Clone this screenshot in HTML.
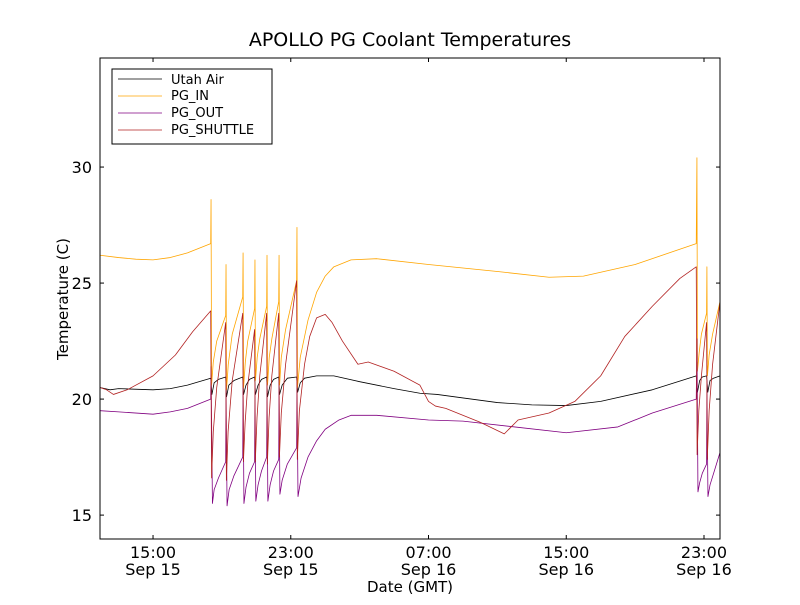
<!DOCTYPE html>
<html><head><meta charset="utf-8"><style>
html,body{margin:0;padding:0;background:#fff;}
svg text{font-family:"DejaVu Sans","Liberation Sans",sans-serif;}
</style></head><body>
<svg id="chart" width="800" height="600" xmlns="http://www.w3.org/2000/svg">
<rect width="800" height="600" fill="#fff"/>
<text x="410" y="46" font-size="19" text-anchor="middle">APOLLO PG Coolant Temperatures</text>
<g id="plot"></g>
<g id="axes"></g>
<g>
<rect x="112" y="69" width="160" height="75" fill="#fff" stroke="#000" stroke-width="1"/>
<line x1="118" y1="79" x2="162" y2="79" stroke="#000" stroke-width="0.8"/>
<text x="171" y="84" font-size="13">Utah Air</text>
<line x1="118" y1="96" x2="162" y2="96" stroke="#ffa500" stroke-width="0.8"/>
<text x="171" y="100" font-size="13">PG_IN</text>
<line x1="118" y1="113" x2="162" y2="113" stroke="#800080" stroke-width="0.8"/>
<text x="171" y="117" font-size="13">PG_OUT</text>
<line x1="118" y1="130" x2="162" y2="130" stroke="#b22222" stroke-width="0.8"/>
<text x="171" y="134" font-size="13">PG_SHUTTLE</text>
</g>
<text x="410" y="592" font-size="15" text-anchor="middle">Date (GMT)</text>
<text x="0" y="0" font-size="15" text-anchor="middle" transform="translate(68,299) rotate(-90)">Temperature (C)</text>
</svg>
<script>
// hours since Sep 15 00:00 GMT
const xTicks = [15, 23, 31, 39, 47];
const xTickLabels = [["15:00","Sep 15"],["23:00","Sep 15"],["07:00","Sep 16"],["15:00","Sep 16"],["23:00","Sep 16"]];
const yTicks = [15, 20, 25, 30];
const utahAir = [[11.92,20.5],[12.5,20.4],[13,20.45],[15,20.4],[16,20.45],[17,20.6],[18.35,20.9],[18.42,20.2],[18.55,20.7],[18.8,20.85],[19.22,20.95],[19.27,20.1],[19.4,20.6],[19.7,20.8],[20.21,20.95],[20.26,20.2],[20.4,20.6],[20.6,20.85],[20.9,20.95],[20.95,20.2],[21.1,20.6],[21.3,20.85],[21.6,20.95],[21.65,20.1],[21.8,20.6],[22.0,20.85],[22.3,20.95],[22.35,20.2],[22.5,20.6],[22.8,20.9],[23.34,20.95],[23.4,20.3],[23.55,20.7],[23.8,20.9],[24.5,21.0],[25.5,21.0],[27,20.75],[29,20.45],[30.5,20.25],[31.5,20.2],[33,20.05],[35,19.85],[37,19.75],[39,19.72],[41,19.9],[44,20.4],[46.55,21.0],[46.62,20.3],[46.75,20.8],[46.9,20.95],[47.15,21.0],[47.22,20.3],[47.35,20.8],[47.55,20.9],[47.93,21.0]];
const pgIn = [[11.92,26.2],[13,26.1],[14,26.03],[15,26.0],[16,26.1],[17,26.3],[18.35,26.7],[18.37,28.6],[18.4,20.6],[18.5,21.6],[18.7,22.5],[19.22,23.6],[19.24,25.8],[19.27,20.4],[19.37,21.5],[19.6,22.8],[20.21,24.4],[20.23,26.3],[20.26,20.5],[20.36,21.6],[20.5,22.5],[20.9,23.9],[20.92,26.0],[20.95,20.8],[21.05,21.8],[21.2,22.6],[21.6,24.0],[21.62,26.2],[21.65,20.6],[21.75,21.8],[21.9,22.6],[22.3,24.2],[22.32,26.2],[22.35,20.6],[22.45,21.8],[22.7,23.0],[23.34,25.1],[23.36,27.4],[23.39,20.5],[23.55,21.8],[24.0,23.4],[24.5,24.6],[25.0,25.3],[25.5,25.7],[26.5,26.0],[28,26.05],[31,25.8],[35,25.5],[38,25.25],[40,25.3],[43,25.8],[46.55,26.7],[46.59,30.4],[46.62,21.2],[46.72,22.0],[46.85,22.8],[47.15,23.7],[47.17,25.7],[47.2,21.0],[47.3,21.9],[47.5,22.8],[47.93,24.2]];
const pgOut = [[11.92,19.5],[13,19.45],[15,19.35],[16,19.45],[17,19.6],[18.35,20.0],[18.37,21.4],[18.45,15.5],[18.55,16.1],[18.8,16.6],[19.22,17.3],[19.24,20.6],[19.3,15.4],[19.42,16.1],[19.7,16.7],[20.21,17.5],[20.23,20.8],[20.28,15.5],[20.4,16.2],[20.6,16.8],[20.9,17.3],[20.92,20.6],[20.97,15.6],[21.1,16.3],[21.3,16.9],[21.6,17.5],[21.62,20.7],[21.67,15.6],[21.8,16.3],[22.0,16.9],[22.3,17.4],[22.32,20.8],[22.37,15.9],[22.5,16.5],[22.8,17.2],[23.34,17.9],[23.36,20.9],[23.42,15.8],[23.6,16.6],[24.0,17.5],[24.5,18.2],[25.0,18.7],[25.8,19.1],[26.5,19.3],[28,19.3],[31,19.1],[33,19.05],[36,18.8],[39,18.55],[42,18.8],[44,19.4],[46.55,20.0],[46.59,22.6],[46.65,16.0],[46.75,16.4],[46.9,16.8],[47.15,17.2],[47.17,20.8],[47.23,15.8],[47.35,16.3],[47.6,16.9],[47.93,17.7]];
const pgShuttle = [[11.92,20.5],[12.3,20.4],[12.7,20.2],[13.5,20.4],[15,21.0],[16.3,21.9],[17.3,22.9],[18.35,23.8],[18.4,16.6],[18.5,18.6],[18.7,20.5],[19.22,23.3],[19.26,16.5],[19.36,18.6],[19.6,20.8],[20.21,23.7],[20.25,17.3],[20.35,19.0],[20.5,20.6],[20.9,23.0],[20.94,17.3],[21.04,19.2],[21.2,21.0],[21.6,23.7],[21.64,17.2],[21.74,19.2],[21.9,21.0],[22.3,23.7],[22.34,17.5],[22.45,19.4],[22.7,21.5],[23.34,25.1],[23.38,17.4],[23.5,19.5],[23.8,21.5],[24.1,22.7],[24.5,23.5],[25.0,23.65],[25.4,23.3],[26,22.5],[26.9,21.5],[27.5,21.6],[29,21.2],[30.5,20.6],[31.0,19.9],[31.4,19.7],[32,19.6],[34,19.0],[35.4,18.5],[36.2,19.1],[38,19.4],[39.5,19.9],[41,21.0],[42.4,22.7],[44,24.0],[45.6,25.2],[46.55,25.7],[46.6,17.6],[46.7,19.5],[46.85,21.0],[47.15,23.3],[47.19,17.4],[47.3,19.5],[47.5,21.5],[47.93,24.2]];

const L=100,R=720,T=58,B=539, X0=11.92,X1=47.93, Y0=13.97,Y1=34.7;
const sx=h=>L+(h-X0)/(X1-X0)*(R-L);
const sy=v=>B-(v-Y0)/(Y1-Y0)*(B-T);
const NS="http://www.w3.org/2000/svg";
const plot=document.getElementById('plot'), axes=document.getElementById('axes');
function mk(tag,attrs,parent){const e=document.createElementNS(NS,tag);for(const k in attrs)e.setAttribute(k,attrs[k]);parent.appendChild(e);return e;}
function series(data,color,name){
  const d=data.map((p,i)=>(i?'L':'M')+sx(p[0]).toFixed(2)+','+sy(p[1]).toFixed(2)).join('');
  const p=mk('path',{d:d,fill:'none',stroke:color,'stroke-width':0.8,'stroke-linejoin':'round'},plot);
  
  
}
series(utahAir,'#000','series-utah-air');
series(pgIn,'#ffa500','series-pg-in');
series(pgOut,'#800080','series-pg-out');
series(pgShuttle,'#b22222','series-pg-shuttle');
mk('rect',{x:L,y:T,width:R-L,height:B-T,fill:'none',stroke:'#000','stroke-width':1},axes);
xTicks.forEach((h,i)=>{
  const x=sx(h);
  mk('line',{x1:x,y1:B,x2:x,y2:B-4,stroke:'#000'},axes);
  mk('line',{x1:x,y1:T,x2:x,y2:T+4,stroke:'#000'},axes);
  const t1=mk('text',{x:x,y:B+19,'font-size':16,'text-anchor':'middle'},axes);t1.textContent=xTickLabels[i][0];
  
  
  const t2=mk('text',{x:x,y:B+36,'font-size':16,'text-anchor':'middle'},axes);t2.textContent=xTickLabels[i][1];
  
  
});
yTicks.forEach(v=>{
  const y=sy(v);
  mk('line',{x1:L,y1:y,x2:L+4,y2:y,stroke:'#000'},axes);
  mk('line',{x1:R,y1:y,x2:R-4,y2:y,stroke:'#000'},axes);
  const t=mk('text',{x:L-8,y:y+6,'font-size':16,'text-anchor':'end'},axes);t.textContent=v;
  
  
});
</script>
</body></html>
